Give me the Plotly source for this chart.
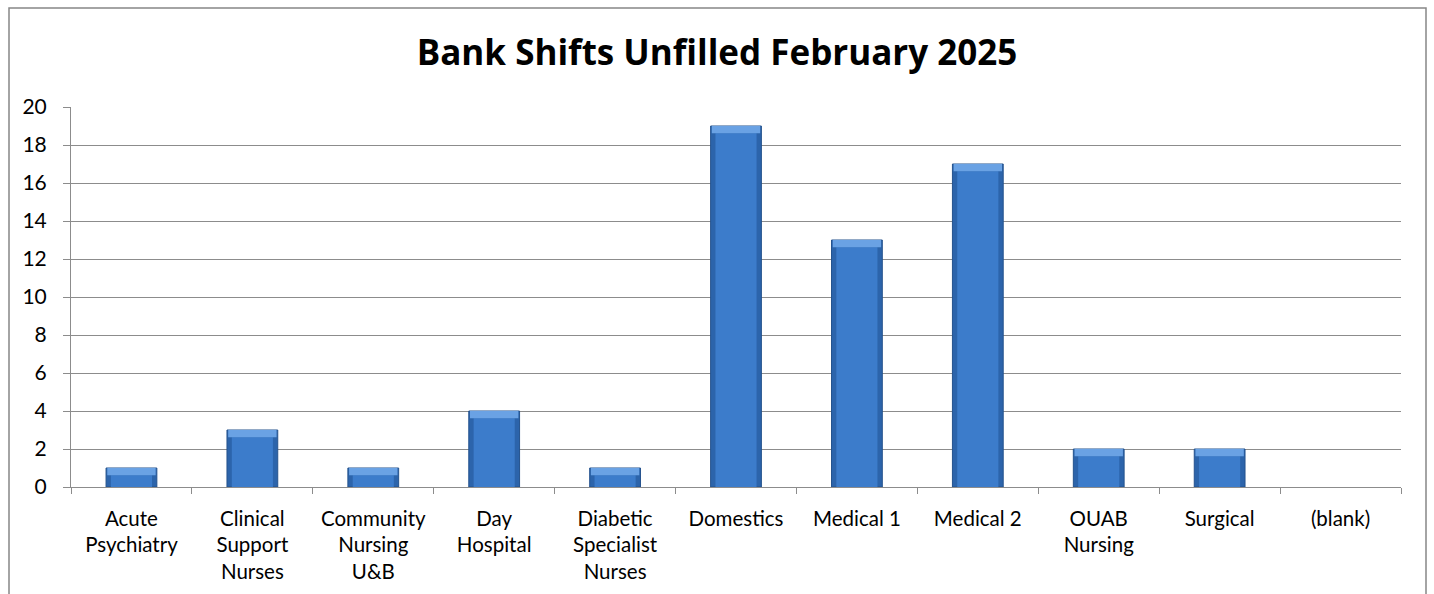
import plotly.graph_objects as go

# Unfilled bank shifts by staff group, February 2025
categories = [
    "Acute<br>Psychiatry",
    "Clinical<br>Support<br>Nurses",
    "Community<br>Nursing<br>U&B",
    "Day<br>Hospital",
    "Diabetic<br>Specialist<br>Nurses",
    "Domestics",
    "Medical 1",
    "Medical 2",
    "OUAB<br>Nursing",
    "Surgical",
    "(blank)",
]
unfilled = [1, 3, 1, 4, 1, 19, 13, 17, 2, 2, 0]
y_ticks = [0, 2, 4, 6, 8, 10, 12, 14, 16, 18, 20]

FONT = "Lato"
TITLE_FONT = "Open Sans"
GRID = "#8c8c8c"
BEVEL = 0.38  # depth of the highlighted top face, in axis units

fig = go.Figure()

# Base bar with a darker rim
fig.add_trace(go.Bar(
    x=categories, y=unfilled, width=0.42,
    marker=dict(color="#2c64ab",
                line=dict(color="#24528d", width=[1 if v > 0 else 0 for v in unfilled])),
    hoverinfo="x+y",
))

# Lighter centre face of each bar
fig.add_trace(go.Bar(
    x=categories,
    y=[max(v - BEVEL, 0) for v in unfilled],
    base=[0 for v in unfilled],
    width=0.34,
    marker=dict(color="#3c7ccb", line=dict(width=0)),
    hoverinfo="skip",
))

# Highlighted top bevel
fig.add_trace(go.Bar(
    x=categories,
    y=[BEVEL if v > 0 else 0 for v in unfilled],
    base=[v - BEVEL if v > 0 else 0 for v in unfilled],
    width=0.40,
    marker=dict(color="#6aa2e4", line=dict(width=0)),
    hoverinfo="skip",
))

fig.update_layout(
    width=1434, height=594,
    barmode="overlay",
    showlegend=False,
    paper_bgcolor="white",
    plot_bgcolor="white",
    margin=dict(l=71, r=33, t=107, b=107),
    font=dict(family=FONT, size=21, color="black"),
    title=dict(
        text="<b>Bank Shifts Unfilled February 2025</b>",
        x=0.5, xanchor="center", y=0.912, yanchor="middle",
        font=dict(family=TITLE_FONT, size=35, color="black"),
    ),
)

fig.update_xaxes(
    type="category",
    showline=True, linecolor=GRID, linewidth=1,
    ticks="outside", tickson="boundaries", ticklen=6, tickcolor=GRID,
    showgrid=False,
    tickfont=dict(family=FONT, size=20.5, color="black"),
    ticklabelstandoff=13,
)

fig.update_yaxes(
    range=[0, 20],
    tickvals=y_ticks,
    showline=True, linecolor=GRID, linewidth=1,
    ticks="outside", ticklen=7, tickcolor=GRID,
    showgrid=True, gridcolor=GRID, gridwidth=1,
    zeroline=False,
    tickfont=dict(family=FONT, size=21, color="black"),
    ticklabelstandoff=12,
)

# Chart frame
fig.add_shape(
    type="rect", xref="paper", yref="paper",
    x0=-62 / 1330, x1=1355 / 1330, y0=-0.5, y1=(487 - 8) / 380,
    line=dict(color="#878787", width=1.5), fillcolor="rgba(0,0,0,0)",
    layer="below",
)

fig.write_html("out.html")
